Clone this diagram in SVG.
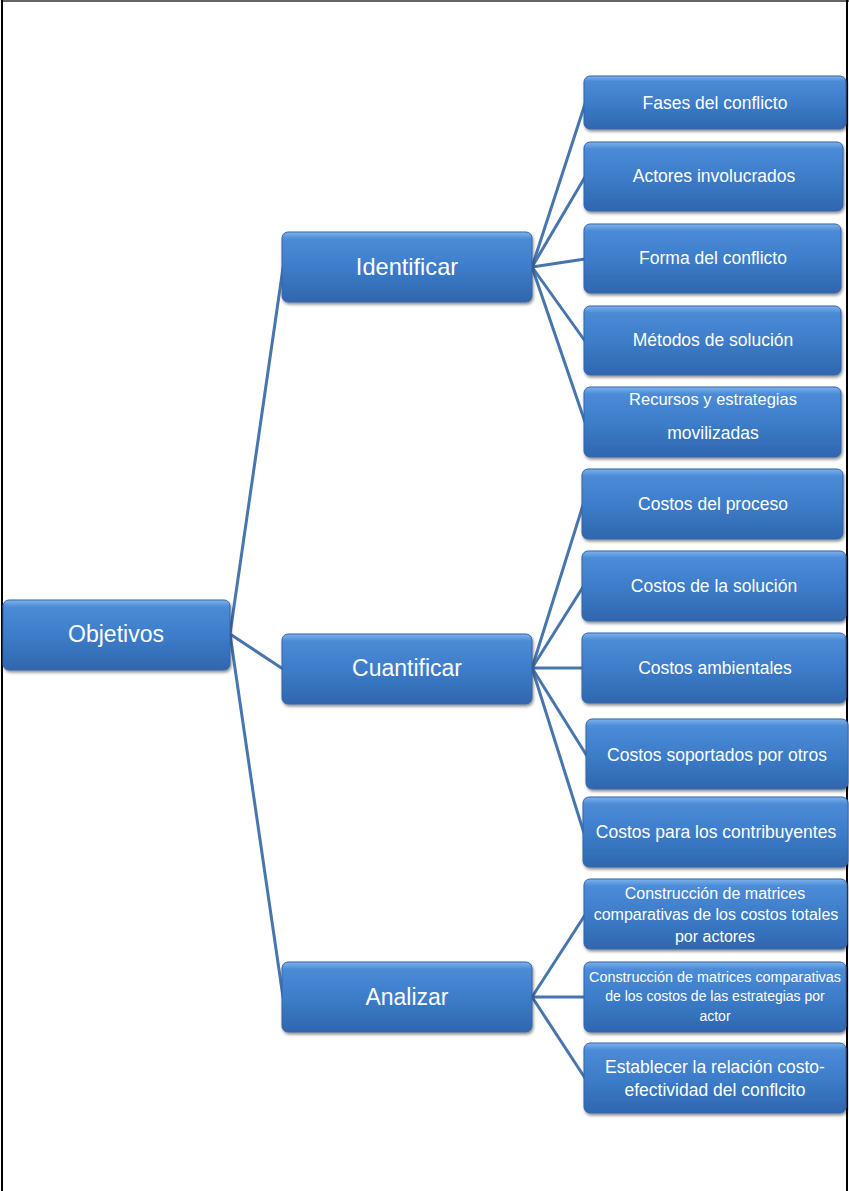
<svg xmlns="http://www.w3.org/2000/svg" width="849" height="1191" viewBox="0 0 849 1191">
<defs>
<linearGradient id="g" x1="0" y1="0" x2="0" y2="1">
<stop offset="0" stop-color="#7DB3EE"/>
<stop offset="0.1" stop-color="#4C8BD6"/>
<stop offset="0.5" stop-color="#3D7DCA"/>
<stop offset="1" stop-color="#2F66AE"/>
</linearGradient>
<filter id="sh" x="-5%" y="-10%" width="110%" height="130%">
<feDropShadow dx="1" dy="2" stdDeviation="1.5" flood-color="#000" flood-opacity="0.45"/>
</filter>
</defs>
<style>
.n rect{fill:url(#g);stroke:#3565A5;stroke-width:1;filter:url(#sh)}
.n text{fill:#fff;font-family:"Liberation Sans",Arial,sans-serif;text-anchor:middle;dominant-baseline:central}
.big text{font-size:23px}
.sm text{font-size:17.5px}
.sm text.s16{font-size:16px}
.xs text{font-size:14px}
#conn line{stroke:#4776AE;stroke-width:3;stroke-linecap:round}
</style>
<rect width="849" height="1191" fill="#fff"/>
<line x1="1" y1="1" x2="849" y2="1" stroke="#666" stroke-width="2"/>
<line x1="2" y1="0" x2="2" y2="1191" stroke="#000" stroke-width="2"/>
<line x1="847" y1="0" x2="847" y2="1191" stroke="#000" stroke-width="2"/>
<g id="conn">
<line x1="230" y1="634" x2="283" y2="268"/>
<line x1="230" y1="634" x2="283" y2="669"/>
<line x1="230" y1="634" x2="283" y2="997"/>
<line x1="532" y1="267" x2="585" y2="104"/>
<line x1="532" y1="267" x2="585" y2="177"/>
<line x1="532" y1="267" x2="585" y2="259"/>
<line x1="532" y1="267" x2="585" y2="341"/>
<line x1="532" y1="267" x2="585" y2="422"/>
<line x1="532" y1="668" x2="583" y2="505"/>
<line x1="532" y1="668" x2="583" y2="587"/>
<line x1="532" y1="668" x2="583" y2="668"/>
<line x1="532" y1="668" x2="587" y2="756"/>
<line x1="532" y1="668" x2="584" y2="833"/>
<line x1="532" y1="997" x2="585" y2="915"/>
<line x1="532" y1="997" x2="585" y2="997"/>
<line x1="532" y1="997" x2="585" y2="1078"/>
</g>
<g id="objetivos" class="n big"><rect x="3" y="600" width="227" height="70" rx="6"/><text x="116" y="634">Objetivos</text></g>
<g id="identificar" class="n big"><rect x="282" y="232" width="250" height="70" rx="6"/><text x="407" y="267" style="font-size:23.6px">Identificar</text></g>
<g id="cuantificar" class="n big"><rect x="282" y="634" width="250" height="70" rx="6"/><text x="407" y="668">Cuantificar</text></g>
<g id="analizar" class="n big"><rect x="282" y="962" width="250" height="70" rx="6"/><text x="407" y="997">Analizar</text></g>
<g id="fases" class="n sm"><rect x="584" y="76" width="262" height="53" rx="6"/><text x="715" y="103">Fases del conflicto</text></g>
<g id="actores" class="n sm"><rect x="584" y="142" width="259" height="69" rx="6"/><text x="714" y="176">Actores involucrados</text></g>
<g id="forma" class="n sm"><rect x="584" y="224" width="257" height="69" rx="6"/><text x="713" y="258">Forma del conflicto</text></g>
<g id="metodos" class="n sm"><rect x="584" y="306" width="257" height="69" rx="6"/><text x="713" y="340">Métodos de solución</text></g>
<g id="recursos" class="n sm"><rect x="584" y="387" width="257" height="70" rx="6"/><text x="713" y="399" style="font-size:16.5px">Recursos y estrategias</text><text x="713" y="433">movilizadas</text></g>
<g id="costos-proceso" class="n sm"><rect x="582" y="469" width="261" height="70" rx="6"/><text x="713" y="504">Costos del proceso</text></g>
<g id="costos-solucion" class="n sm"><rect x="582" y="551" width="264" height="70" rx="6"/><text x="714" y="586">Costos de la solución</text></g>
<g id="costos-ambientales" class="n sm"><rect x="582" y="633" width="264" height="70" rx="6"/><text x="715" y="668">Costos ambientales</text></g>
<g id="costos-otros" class="n sm"><rect x="586" y="719" width="262" height="70" rx="6"/><text x="717" y="755">Costos soportados por otros</text></g>
<g id="costos-contribuyentes" class="n sm"><rect x="583" y="797" width="265" height="70" rx="6"/><text x="716" y="832">Costos para los contribuyentes</text></g>
<g id="matrices-totales" class="n sm"><rect x="584" y="879" width="263" height="70" rx="6"/><text class="s16" x="715" y="893">Construcción de matrices</text><text class="s16" x="716" y="914">comparativas de los costos totales</text><text class="s16" x="715" y="936">por actores</text></g>
<g id="matrices-estrategias" class="n xs"><rect x="584" y="962" width="262" height="70" rx="6"/><text x="715" y="977" textLength="252" lengthAdjust="spacingAndGlyphs">Construcción de matrices comparativas</text><text x="715" y="996">de los costos de las estrategias por</text><text x="715" y="1016">actor</text></g>
<g id="establecer" class="n sm"><rect x="584" y="1043" width="262" height="70" rx="6"/><text x="715" y="1067">Establecer la relación costo-</text><text x="715" y="1090">efectividad del conflcito</text></g>
</svg>
